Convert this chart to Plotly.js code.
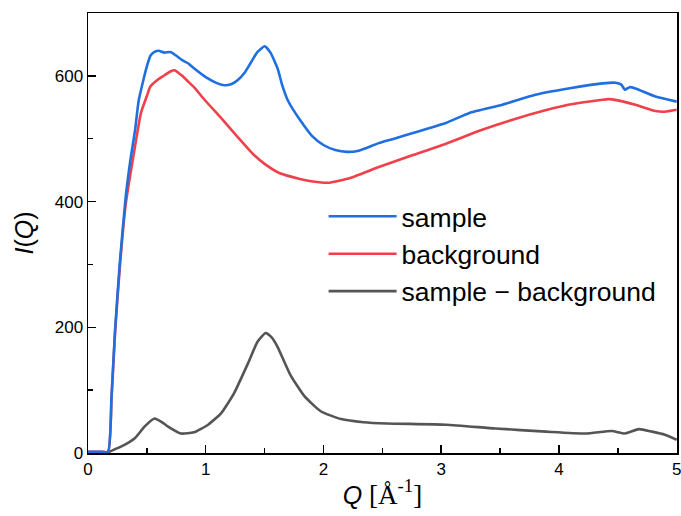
<!DOCTYPE html>
<html>
<head>
<meta charset="utf-8">
<script src="https://cdn.plot.ly/plotly-3.0.1.min.js"></script>
<style>html,body{margin:0;padding:0;background:#fff;}#chart{width:681px;height:516px;}</style>
</head>
<body>
<div id="chart"></div>
<script>
// Sample curve
const qSample = [0, 0.1, 0.17, 0.2, 0.23, 0.27, 0.32, 0.36, 0.40, 0.43, 0.47, 0.5, 0.53, 0.565, 0.6, 0.65, 0.7, 0.75, 0.8, 0.85, 0.9, 1.0, 1.1, 1.16, 1.22, 1.27, 1.33, 1.38, 1.44, 1.5, 1.55, 1.61, 1.65, 1.7, 1.8, 1.9, 2.0, 2.1, 2.2, 2.3, 2.47, 2.6, 2.76, 3.04, 3.24, 3.52, 3.8, 4.08, 4.37, 4.48, 4.53, 4.56, 4.6, 4.65, 4.82, 5.0];
const iSample = [2, 2, 2, 90, 196, 302, 407, 466, 514, 560, 593, 615, 632, 638, 640, 637, 638, 632, 625, 620, 612, 598, 588, 585, 587, 593, 605, 620, 638, 647, 637, 612, 585, 560, 530, 505, 490, 482, 479, 481, 493, 500, 509, 525, 541, 554, 570, 580, 588, 589, 586, 578, 582, 580, 567, 559];

// Background curve
const qBackground = [0, 0.1, 0.17, 0.2, 0.23, 0.27, 0.32, 0.38, 0.45, 0.5, 0.53, 0.6, 0.65, 0.7, 0.735, 0.8, 0.85, 0.9, 0.99, 1.13, 1.27, 1.41, 1.5, 1.63, 1.8, 1.91, 2.05, 2.22, 2.47, 2.76, 3.04, 3.3, 3.52, 3.8, 4.08, 4.37, 4.42, 4.5, 4.65, 4.82, 4.9, 5.0];
const iBackground = [2, 2, 2, 88, 192, 295, 395, 466, 541, 568, 583, 595, 601, 607, 609, 600, 591, 582, 562, 533, 503, 474, 460, 445, 436, 432, 430, 437, 455, 474, 492, 511, 525, 541, 554, 562, 563, 561, 554, 544, 543, 546];

// Difference curve
const qDiff = [0, 0.17, 0.18, 0.28, 0.4, 0.48, 0.565, 0.62, 0.68, 0.79, 0.9, 1.02, 1.13, 1.24, 1.36, 1.44, 1.51, 1.56, 1.61, 1.72, 1.84, 1.98, 2.15, 2.34, 2.54, 3.04, 3.46, 3.89, 4.23, 4.45, 4.56, 4.68, 4.79, 4.9, 5.0];
const iDiff = [1, 1, 2, 10, 24, 42, 55, 50, 42, 31, 33, 45, 63, 95, 143, 177, 191, 184, 169, 124, 90, 66, 54, 49, 47, 45, 39, 34, 31, 35, 31, 38, 34, 29, 21];

const seriesNames = ['sample', 'background', 'sample \u2212 background'];
const xTickVals = [0, 1, 2, 3, 4, 5];
const yTickVals = [0, 200, 400, 600];

const lineStyle = (c) => ({color: c, width: 2.6, shape: 'spline', smoothing: 0.5});

const traces = [
  {x: qDiff, y: iDiff, name: seriesNames[2], type: 'scatter', mode: 'lines',
   line: lineStyle('#555555'), legendrank: 3},
  {x: qBackground, y: iBackground, name: seriesNames[1], type: 'scatter', mode: 'lines',
   line: lineStyle('#f0404a'), legendrank: 2},
  {x: qSample, y: iSample, name: seriesNames[0], type: 'scatter', mode: 'lines',
   line: lineStyle('#1f6fe0'), legendrank: 1}
];

const axisCommon = {
  showline: true, linecolor: '#000', linewidth: 1.5, mirror: true,
  ticks: 'inside', ticklen: 8, tickwidth: 1.5, tickcolor: '#000',
  showgrid: false, zeroline: false, ticklabeloverflow: 'allow',
  tickfont: {family: 'Liberation Sans, Arial, sans-serif', size: 17, color: '#000'}
};

const layout = {
  width: 681, height: 516,
  margin: {l: 88, r: 4, t: 13, b: 63},
  paper_bgcolor: '#fff', plot_bgcolor: '#fff',
  showlegend: true,
  legend: {x: 0.4, y: 0.592, xanchor: 'left', yanchor: 'top',
    font: {family: 'Liberation Sans, Arial, sans-serif', size: 26.5, color: '#000'},
    bgcolor: 'rgba(0,0,0,0)', itemwidth: 68, tracegroupgap: 0},
  xaxis: Object.assign({}, axisCommon, {
    range: [0, 5.003], tickvals: xTickVals, ticktext: xTickVals.map(String),
    minor: {dtick: 0.5, ticks: 'inside', ticklen: 5, tickwidth: 1.5, tickcolor: '#000'},
    title: {text: '<i>Q</i> <span style="font-family:Liberation Serif, Times New Roman, serif;font-size:27px">[Å<sup>-1</sup>]</span>',
      font: {family: 'Liberation Sans, Arial, sans-serif', size: 25, color: '#000'}, standoff: 8}
  }),
  yaxis: Object.assign({}, axisCommon, {
    range: [0, 700], tickvals: yTickVals, ticktext: yTickVals.map(String),
    minor: {dtick: 100, ticks: 'inside', ticklen: 5, tickwidth: 1.5, tickcolor: '#000'},
    title: {text: '<i>I</i>(<i>Q</i>)',
      font: {family: 'Liberation Sans, Arial, sans-serif', size: 25, color: '#000'}, standoff: 14}
  })
};

Plotly.newPlot('chart', traces, layout, {displayModeBar: false, staticPlot: true});
</script>
</body>
</html>
